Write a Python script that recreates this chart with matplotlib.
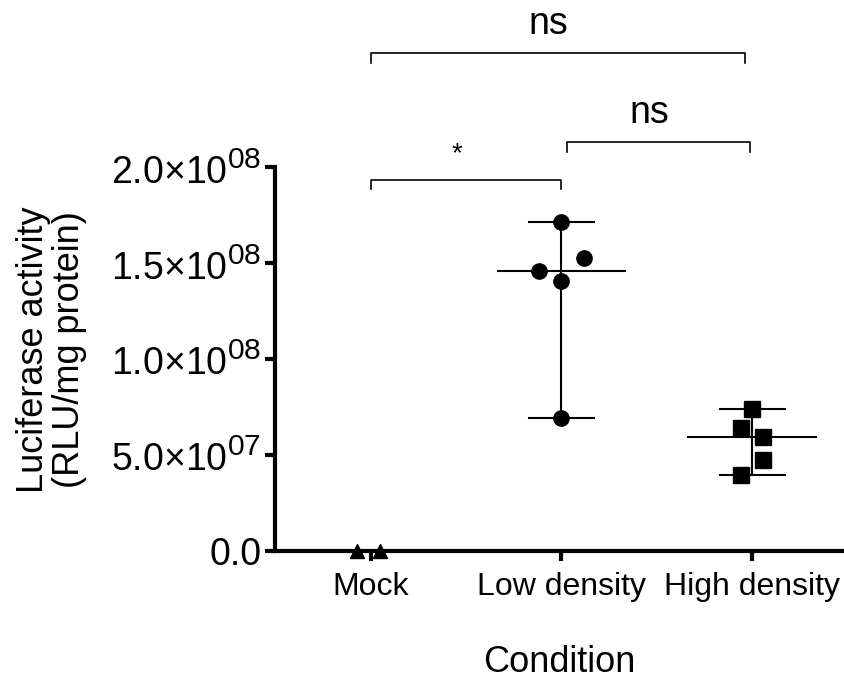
import numpy as np
import matplotlib
matplotlib.use("Agg")
import matplotlib.pyplot as plt
import matplotlib._mathtext as mathtext_internal

plt.rcParams['font.family'] = ['Liberation Sans', 'DejaVu Sans']
plt.rcParams['mathtext.fontset'] = 'custom'
plt.rcParams['mathtext.rm'] = 'Liberation Sans'
plt.rcParams['mathtext.it'] = 'Liberation Sans'
# exponents in the reference are a bit larger than matplotlib's default
mathtext_internal.SHRINK_FACTOR = 0.8

# data
categories = ['Mock', 'Low density', 'High density']
mock = [0.0, 0.0]
low_density = [1.714e8, 1.526e8, 1.462e8, 1.410e8, 0.696e8]
high_density = [0.743e8, 0.644e8, 0.597e8, 0.474e8, 0.395e8]
y_ticks = [0, 5e7, 1e8, 1.5e8, 2e8]
y_tick_labels = ['0.0', r'5.0×10$^{07}$', r'1.0×10$^{08}$', r'1.5×10$^{08}$', r'2.0×10$^{08}$']

# significance comparisons: (group a, group b, label)
comparisons = [(0, 1, '*'), (1, 2, 'ns'), (0, 2, 'ns')]

# layout: horizontal scatter of the points inside each column
offsets = [[-0.07, 0.05],
           [0.0, 0.12, -0.12, 0.0, 0.0],
           [0.0, -0.06, 0.055, 0.055, -0.06]]
markers = ['^', 'o', 's']
msizes = [10, 11, 11]
groups = [mock, low_density, high_density]

fig = plt.figure(figsize=(8.44, 6.91), dpi=100)
ax = fig.add_axes([0.326, 0.2026, 0.674, 0.555])

for i, (vals, off) in enumerate(zip(groups, offsets)):
    vals = np.array(vals)
    xs = i + np.array(off)
    med = np.median(vals)
    lo, hi = vals.min(), vals.max()
    # range bar with median line
    ax.plot([i, i], [lo, hi], color='black', lw=1.5, zorder=2)
    ax.plot([i - 0.17, i + 0.17], [lo, lo], color='black', lw=1.5, zorder=2)
    ax.plot([i - 0.17, i + 0.17], [hi, hi], color='black', lw=1.5, zorder=2)
    ax.plot([i - 0.335, i + 0.335], [med, med], color='black', lw=1.5, zorder=2)
    ax.plot(xs, vals, linestyle='none', marker=markers[i], ms=msizes[i],
            color='black', zorder=3, clip_on=False)

# brackets
bracket_y = {(0, 1): 1.936e8, (1, 2): 2.132e8, (0, 2): 2.595e8}
bracket_x = {(0, 1): (0.0, 1.0), (1, 2): (1.03, 1.99), (0, 2): (0.0, 1.96)}
text_y = {(0, 1): 2.0e8, (1, 2): 2.19e8, (0, 2): 2.655e8}
for a, b, lab in comparisons:
    x1, x2 = bracket_x[(a, b)]
    y = bracket_y[(a, b)]
    h = 0.05e8
    ax.plot([x1, x1, x2, x2], [y - h, y, y, y - h], color='black', lw=1.2,
            clip_on=False)
    fs = 20 if lab == '*' else 27
    ax.text((x1 + x2) / 2 - 0.05, text_y[(a, b)], lab, ha='center', va='bottom',
            fontsize=fs)

ax.set_xlim(-0.5, 2.48)
ax.set_ylim(0, 2e8)
ax.set_xticks(range(len(categories)))
ax.set_xticklabels(categories, fontsize=23)
ax.set_yticks(y_ticks)
ax.set_yticklabels(y_tick_labels, fontsize=27)

for side in ['top', 'right']:
    ax.spines[side].set_visible(False)
for side in ['left', 'bottom']:
    ax.spines[side].set_linewidth(3)
ax.tick_params(width=3, length=7, pad=3)
ax.tick_params(axis='x', pad=8)

ax.set_ylabel('Luciferase activity\n(RLU/mg protein)', fontsize=26,
              linespacing=1.05)
ax.yaxis.set_label_coords(-0.33, 0.525)
ax.set_xlabel('Condition', fontsize=26, labelpad=31)

fig.savefig('out.png', dpi=100)
